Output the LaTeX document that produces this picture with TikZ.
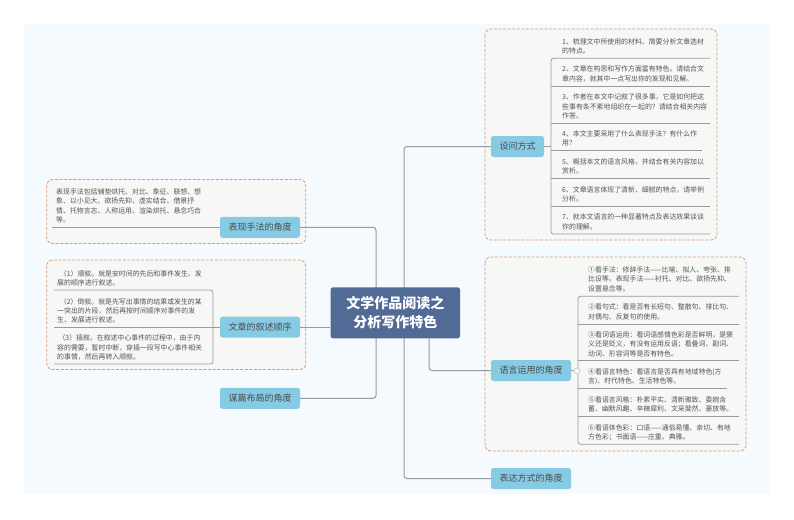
\documentclass[tikz,border=0pt]{standalone}
\usepackage{fontspec}
\setmainfont{Noto Sans CJK SC}
\usetikzlibrary{positioning, calc}
\definecolor{pageBg}{HTML}{F4FAFE}
\definecolor{groupFill}{HTML}{F7F7F6}
\definecolor{groupLine}{HTML}{E09A72}
\definecolor{topicFill}{HTML}{86CBE3}
\definecolor{rootFill}{HTML}{526A96}
\definecolor{branchLine}{HTML}{949CA3}
\definecolor{leafText}{HTML}{555555}
\tikzstyle{groupBox}=[draw=groupLine, fill=groupFill, dash pattern=on 3pt off 1.6pt, line width=0.8pt, rounded corners=6pt]
\tikzstyle{branch}=[draw=branchLine, line width=1pt, rounded corners=3pt]
\tikzstyle{twig}=[draw=branchLine, line width=0.8pt, rounded corners=2.5pt]
\tikzstyle{topic}=[fill=topicFill, rounded corners=2.5pt, minimum width=80pt, minimum height=21pt,
  inner sep=0pt, font=\fontsize{9}{11}\selectfont, text=black!70]
\tikzstyle{leaf}=[anchor=west, inner sep=0pt, align=left, text=leafText,
  font=\fontsize{6.9}{9.3}\selectfont]
\begin{document}
\begin{tikzpicture}[x=1pt, y=-1pt]
  \useasboundingbox (0,0) rectangle (794,519);
  \fill[pageBg] (24,24) rectangle (770,494);

  \draw[groupBox] (485,29) rectangle (717,240);
  \draw[groupBox] (485,257) rectangle (746,451);
  \draw[groupBox] (46.7,179.5) rectangle (305.7,243.5);
  \draw[groupBox] (46.7,260) rectangle (305.7,369.5);

  \node[topic, minimum width=53pt] (ask) at (517.5,146.5) {设问方式};
  \node[topic] (lang) at (531,370.5) {语言运用的角度};
  \node[topic] (expr) at (531,478.5) {表达方式的角度};
  \node[topic] (tech) at (260,227.3) {表现手法的角度};
  \node[topic] (order) at (260,327.2) {文章的叙述顺序};
  \node[topic] (plan) at (260,398.3) {谋篇布局的角度};

  % main branches
  \coordinate (rTop) at (404,146.5);
  \coordinate (rBot) at (404,478.5);
  \coordinate (lTop) at (376,227.3);
  \coordinate (lBot) at (376,398.3);
  \coordinate (rLang) at (429,370.5);
  \draw[branch] (ask.west) -- (rTop) -- (rBot) -- (expr.west);
  \draw[branch] (tech.east) -- (lTop) -- (lBot) -- (plan.east);
  \node[fill=rootFill, rounded corners=2.5pt, minimum width=129.5pt, minimum height=51pt, inner sep=0pt,
    align=center, text=white, font=\fontsize{14}{19}\selectfont\bfseries] (root) at (395.3,312.8)
    {文学作品阅读之\\分析写作特色};
  \draw[branch] (root.south -| rLang) -- (rLang) -- (lang.west);
  \draw[branch] (root.west |- order.east) -- (order.east);

  % questions
  \coordinate (qa) at (551,58.3);
  \coordinate (qb) at (551,86.3);
  \coordinate (qc) at (551,123.3);
  \coordinate (qd) at (551,150.7);
  \coordinate (qe) at (551,178.3);
  \coordinate (qf) at (551,206.3);
  \coordinate (qg) at (551,234);
  \coordinate (qaEnd) at (710,58.3);
  \coordinate (qgEnd) at (710,234);
  \coordinate (askJoin) at (551,146.5);
  \draw[twig] (qaEnd) -- (qa) -- (qg) -- (qgEnd);
  \foreach \p/\e in {qb/710,qc/710,qd/702,qe/710,qf/710}
    \draw[twig] (\p) -- (\e,0 |- \p);
  \draw[twig] (ask.east) -- (askJoin);
  \node[leaf] (qa1) at (562,46) {1、梳理文中所使用的材料、简要分析文章选材\\的特点。};
  \node[leaf] (qb1) at (562,74) {2、文章在构思和写作方面富有特色。请结合文\\章内容，就其中一点写出你的发现和见解。};
  \node[leaf] (qc1) at (562,106.5) {3、作者在本文中记叙了很多事，它是如何把这\\些事有条不紊地组织在一起的？请结合相关内容\\作答。};
  \node[leaf] (qd1) at (562,138.2) {4、本文主要采用了什么表现手法？有什么作\\用？};
  \node[leaf] (qe1) at (562,166.3) {5、概括本文的语言风格，并结合有关内容加以\\赏析。};
  \node[leaf] (qf1) at (562,194.5) {6、文章语言体现了清新、细腻的特点，请举例\\分析。};
  \node[leaf] (qg1) at (562,222) {7、就本文语言的一种显著特点及表达效果谈谈\\你的理解。};

  % language
  \coordinate (la) at (578,296.3);
  \coordinate (lb) at (578,324.3);
  \coordinate (lc) at (578,360.7);
  \coordinate (ld) at (578,388.3);
  \coordinate (le) at (578,416.3);
  \coordinate (lf) at (578,444.3);
  \coordinate (laEnd) at (739,296.3);
  \coordinate (lfEnd) at (739,444.3);
  \draw[twig] (laEnd) -- (la) -- (lf) -- (lfEnd);
  \foreach \p/\e in {lb/739,lc/739,ld/727,le/739}
    \draw[twig] (\p) -- (\e,0 |- \p);
  \node[draw=branchLine!60, fill=groupFill, circle, inner sep=0pt, minimum size=6pt, line width=0.5pt] (fold) at (577,371) {};
  \draw[twig] (lang.east) -- (fold);
  \node[leaf] (la1) at (588,279.3) {①看手法：修辞手法——比喻、拟人、夸张、排\\比设等。表现手法——衬托、对比、欲扬先抑、\\设置悬念等。};
  \node[leaf] (lb1) at (588,312) {②看句式：看是否有长短句、整散句、排比句、\\对偶句、反复句的使用。};
  \node[leaf] (lc1) at (588,344.2) {③看词语运用：看词语感情色彩是否鲜明，是褒\\义还是贬义，有没有运用反语；看叠词、副词、\\动词、形容词等是否有特色。};
  \node[leaf] (ld1) at (588,376.7) {④看语言特色：看语言是否具有地域特色(方\\言)、时代特色、生活特色等。};
  \node[leaf] (le1) at (588,404.5) {⑤看语言风格：朴素平实、清新雅致、委婉含\\蓄、幽默风趣、辛辣犀利、文采斐然、豪放等。};
  \node[leaf] (lf1) at (588,432.5) {⑥看语体色彩：口语——通俗易懂、亲切、有地\\方色彩；书面语——庄重、典雅。};

  % left side
  \coordinate (ta) at (52,227.3);
  \draw[twig] (ta) -- (tech.west);
  \node[leaf] (ta1) at (56,206) {表现手法包括铺垫烘托、对比、象征、联想、想\\象、以小见大、欲扬先抑、虚实结合、借景抒\\情、托物言志、人称运用、渲染烘托、悬念巧合\\等。};

  \coordinate (oa) at (54,290);
  \coordinate (ob) at (54,327.2);
  \coordinate (oc) at (54,364);
  \coordinate (oTop) at (213,290);
  \coordinate (oBot) at (213,364);
  \draw[twig] (oa) -- (oTop) -- (oBot) -- (oc);
  \draw[twig] (ob) -- (order.west);
  \node[leaf] (oa1) at (57,278) {\hspace*{0.4em}（1）顺叙。就是安时间的先后和事件发生、发\\展的顺序进行叙述。};
  \node[leaf] (ob1) at (57,310.8) {\hspace*{0.4em}（2）倒叙。就是先写出事情的结果或发生的某\\一突出的片段，然后再按时间顺序对事件的发\\生、发展进行叙述。};
  \node[leaf] (oc1) at (57,347.5) {\hspace*{0.2em}（3）插叙。在叙述中心事件的过程中，由于内\\容的需要，暂时中断，穿插一段写中心事件相关\\的事情，然后再转入顺叙。};
\end{tikzpicture}
\end{document}
